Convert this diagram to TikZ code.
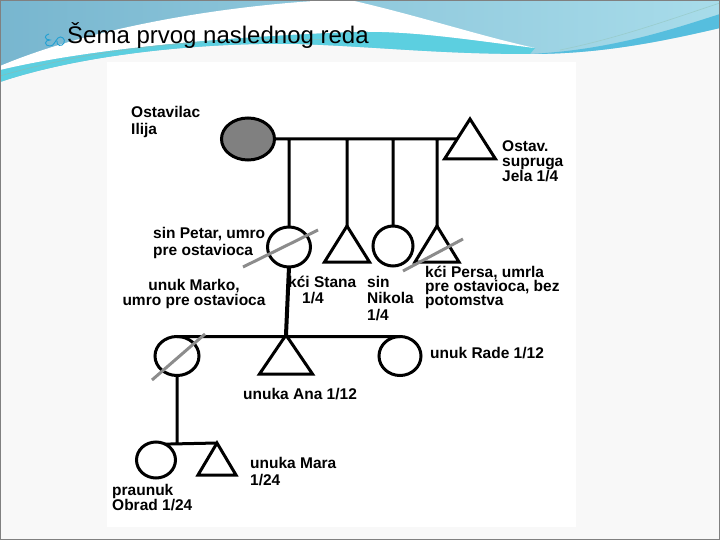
\documentclass[tikz,border=0pt]{standalone}
\usepackage{fontspec}
\setmainfont{Liberation Sans}
\usepackage{tikz}
\usetikzlibrary{positioning,calc,shapes.geometric}
\definecolor{waveblue}{HTML}{78B6CF}
\definecolor{wavelight}{HTML}{A8DCEA}
\definecolor{wavecyan}{HTML}{5CCFE0}
\definecolor{wavedeep}{HTML}{56BEDE}
\definecolor{slidebg}{HTML}{F8F8F8}
\definecolor{strikegray}{HTML}{8C8C8C}

\begin{document}
\begin{tikzpicture}[x=1pt,y=-1pt,
            male/.style={ellipse,draw,line width=3pt,inner sep=0pt,outer sep=0pt},
            female/.style={isosceles triangle,isosceles triangle stretches,shape border rotate=90,
                draw,line width=3pt,inner sep=0pt,outer sep=0pt,anchor=apex},
            link/.style={line width=3pt},
            strike/.style={line width=3pt,strikegray},
            lbl/.style={font=\bfseries\fontsize{15.5}{17}\selectfont,align=left,inner sep=0pt,anchor=base west}
        ]
            \useasboundingbox (0,0) rectangle (720,540);
            \fill[slidebg] (0,0) rectangle (720,540);
            \fill[white] (107,62) rectangle (576,527);
            \shade[left color=waveblue,right color=wavelight]
                (0,0) -- (720,0) -- (720,28) .. controls (660,42) and (600,54) .. (530,54)
                .. controls (440,54) and (380,47) .. (300,44) .. controls (200,42) and (80,55) .. (0,82) -- cycle;
            \fill[wavecyan] (0,82) .. controls (80,55) and (200,42) .. (300,44)
                .. controls (380,47) and (440,54) .. (530,54) -- (535,48)
                .. controls (470,40) and (410,30) .. (350,32) .. controls (250,36) and (100,46) .. (0,70) -- cycle;
            \fill[white] (0,66) .. controls (90,28) and (220,6) .. (330,0) -- (350,0)
                .. controls (420,16) and (480,36) .. (535,48)
                .. controls (470,40) and (410,30) .. (350,32) .. controls (250,36) and (100,46) .. (0,70) -- cycle;
            \fill[wavedeep] (530,54) .. controls (610,50) and (670,30) .. (720,14) -- (720,28)
                .. controls (660,42) and (600,54) .. (530,54) -- cycle;
            \draw[teal!50,line width=0.6pt] (0,76) .. controls (90,50) and (200,36) .. (330,40);
            \draw[teal!40,line width=0.6pt] (560,50) .. controls (620,38) and (680,16) .. (720,3);
            \draw[gray,line width=1.2pt] (0.6,0.6) rectangle (719.4,539.4);
            \draw[cyan!70!teal,line width=0.9pt]
                (49,34) .. controls (44,35) and (44,40) .. (50,40)
                .. controls (44,40) and (44,46) .. (50,46) .. controls (54,46) and (55,41) .. (58,38)
                .. controls (61,35) and (66,39) .. (64,43) .. controls (62,47) and (56,46) .. (57,41);
            \node[anchor=base west,inner sep=0pt,font=\fontsize{24}{28}\selectfont] (title) at (67,44) {Šema prvog naslednog reda};
            \begin{scope}
            \clip (107,62) rectangle (576,512);
            \node[male,fill=gray,minimum width=53,minimum height=42] (ilija) at (248,139) {};
            \node[female,minimum width=51,minimum height=40] (jela) at (470,119) {};
            \node[male,minimum width=43,minimum height=40] (petar) at (289,247) {};
            \node[female,minimum width=45,minimum height=36] (stana) at (347,226) {};
            \node[male,minimum width=40,minimum height=40] (nikola) at (393,246) {};
            \node[female,minimum width=44,minimum height=36] (persa) at (437,226) {};
            \node[male,minimum width=44,minimum height=39] (marko) at (177,356) {};
            \node[female,minimum width=53,minimum height=39] (ana) at (286,335) {};
            \node[male,minimum width=42,minimum height=39] (rade) at (400,356) {};
            \node[male,minimum width=39,minimum height=36] (obrad) at (156,460) {};
            \node[female,minimum width=38,minimum height=32] (mara) at (217,443) {};
            \draw[link]
                (ilija.east) -- (ilija.east -| jela.left side)
                (petar.north |- ilija.east) -- (petar.north)
                (stana.apex |- ilija.east) -- (stana.apex)
                (nikola.north |- ilija.east) -- (nikola.north)
                (persa.apex |- ilija.east) -- (persa.apex)
                (marko.north) -- (rade.north)
                (marko.south) -- (marko.south |- mara.apex)
                (obrad.60) -- (mara.apex);
            \draw[link,line width=4pt] (petar.south) -- (ana.apex);
            \draw[strike] ([shift={(-46,20)}]petar.center) -- ([shift={(29,-17)}]petar.center);
            \draw[strike] ([shift={(-34,45)}]persa.apex) -- ([shift={(26,13)}]persa.apex);
            \draw[strike] ([shift={(-25,24)}]marko.center) -- ([shift={(28,-22)}]marko.center);
            \node[lbl] (ilijaTxt) at (131,135) {Ostavilac\\Ilija};
            \node[lbl,font=\bfseries\fontsize{15.5}{15}\selectfont] (jelaTxt) at (502,182) {Ostav.\\supruga\\Jela 1/4};
            \node[lbl] (petarTxt) at (153,255) {sin Petar, umro\\pre ostavioca};
            \node[lbl,font=\bfseries\fontsize{15.5}{16}\selectfont] (stanaTxt) at (288,303) {kći Stana\\\hspace*{14pt}1/4};
            \node[lbl,font=\bfseries\fontsize{15.5}{16.5}\selectfont] (nikolaTxt) at (367,320) {sin\\Nikola\\1/4};
            \node[lbl,font=\bfseries\fontsize{15.5}{14}\selectfont] (persaTxt) at (425,305) {kći Persa, umrla\\pre ostavioca, bez\\potomstva};
            \node[lbl,font=\bfseries\fontsize{15.5}{15}\selectfont,align=center,anchor=base] (markoTxt) at (194,305) {unuk Marko,\\umro pre ostavioca};
            \node[lbl] (radeTxt) at (430,358) {unuk Rade 1/12};
            \node[lbl] (anaTxt) at (243,399) {unuka Ana 1/12};
            \node[lbl] (maraTxt) at (250,485) {unuka Mara\\1/24};
            \node[lbl,font=\bfseries\fontsize{15.5}{15}\selectfont] (obradTxt) at (112,510) {praunuk\\Obrad 1/24};
            \end{scope}
        \end{tikzpicture}
\end{document}
